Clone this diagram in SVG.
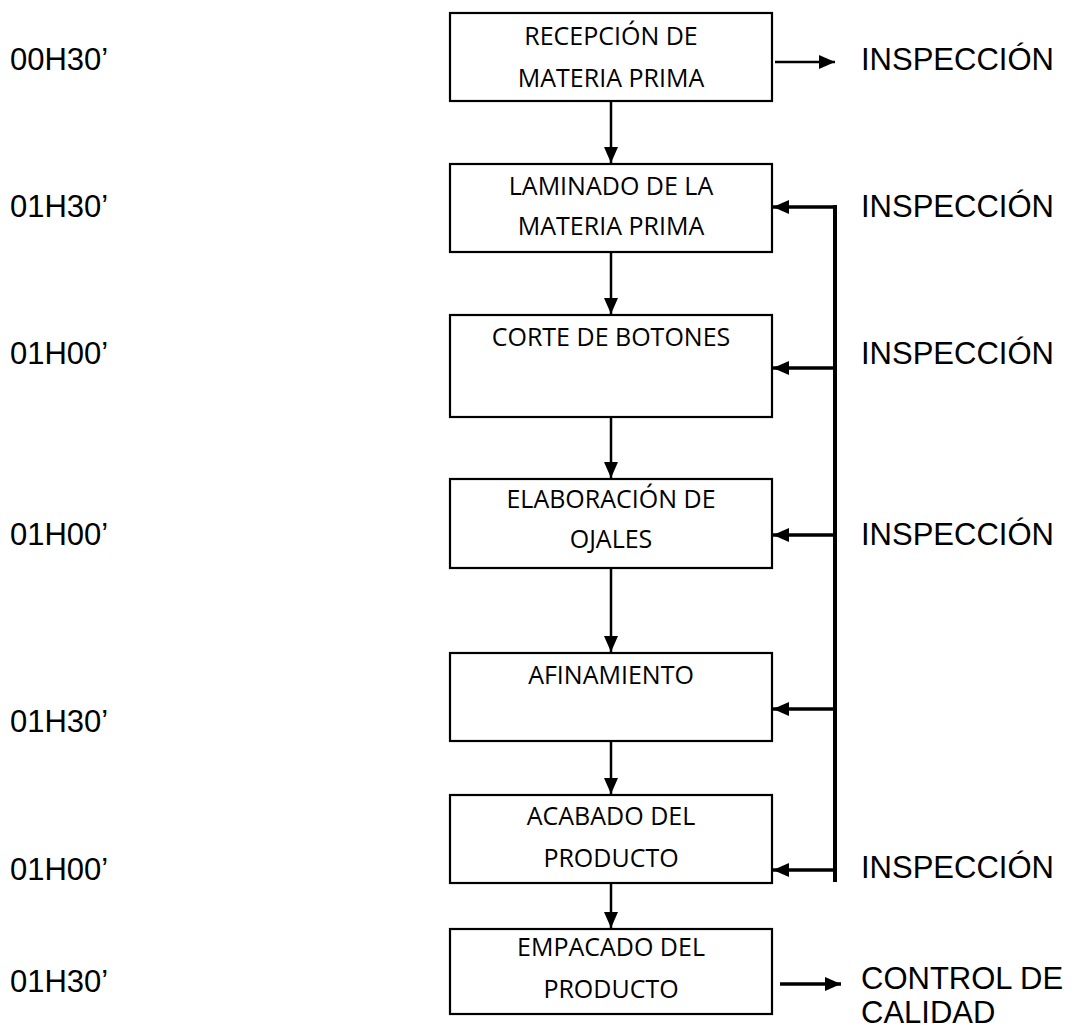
<svg xmlns="http://www.w3.org/2000/svg" width="1075" height="1029" viewBox="0 0 1075 1029">
<style>
.box{fill:#fff;stroke:#000;stroke-width:2.2}
.bt{font-family:"Open Sans","Noto Sans",sans-serif;font-size:25px;fill:#000;text-anchor:middle}
.lab{font-family:"Liberation Sans",Arial,sans-serif;font-size:31px;fill:#000}
.c{stroke:#000;fill:none}
.thin{stroke-width:2.5}
.thick{stroke-width:3.3}
</style>
<defs>
<marker id="ah" markerUnits="userSpaceOnUse" markerWidth="16" markerHeight="14" refX="16" refY="7" orient="auto">
<path d="M0,0 L16,7 L0,14 z" fill="#000"/>
</marker>
</defs>
<rect width="1075" height="1029" fill="#fff"/>
<g id="n1"><rect class="box" x="450" y="13" width="322" height="88"/><text class="bt" x="611" y="45">RECEPCIÓN DE</text><text class="bt" x="611" y="87">MATERIA PRIMA</text></g>
<g id="n2"><rect class="box" x="450" y="164" width="322" height="88"/><text class="bt" x="611" y="195">LAMINADO DE LA</text><text class="bt" x="611" y="235">MATERIA PRIMA</text></g>
<g id="n3"><rect class="box" x="450" y="315" width="322" height="102"/><text class="bt" x="611" y="346">CORTE DE BOTONES</text></g>
<g id="n4"><rect class="box" x="450" y="479" width="322" height="89"/><text class="bt" x="611" y="508">ELABORACIÓN DE</text><text class="bt" x="611" y="548">OJALES</text></g>
<g id="n5"><rect class="box" x="450" y="653" width="322" height="88"/><text class="bt" x="611" y="684">AFINAMIENTO</text></g>
<g id="n6"><rect class="box" x="450" y="795" width="322" height="88"/><text class="bt" x="611" y="825">ACABADO DEL</text><text class="bt" x="611" y="867">PRODUCTO</text></g>
<g id="n7"><rect class="box" x="450" y="929" width="322" height="85"/><text class="bt" x="611" y="956">EMPACADO DEL</text><text class="bt" x="611" y="998">PRODUCTO</text></g>
<g id="times">
<text class="lab" x="10" y="70">00H30’</text>
<text class="lab" x="10" y="217">01H30’</text>
<text class="lab" x="10" y="364">01H00’</text>
<text class="lab" x="10" y="545">01H00’</text>
<text class="lab" x="10" y="732">01H30’</text>
<text class="lab" x="10" y="880">01H00’</text>
<text class="lab" x="10" y="992">01H30’</text>
</g>
<g id="outputs">
<text class="lab" x="861" y="70">INSPECCIÓN</text>
<text class="lab" x="861" y="217">INSPECCIÓN</text>
<text class="lab" x="861" y="364">INSPECCIÓN</text>
<text class="lab" x="861" y="545">INSPECCIÓN</text>
<text class="lab" x="861" y="878">INSPECCIÓN</text>
<text class="lab" x="861" y="989">CONTROL DE</text>
<text class="lab" x="861" y="1023">CALIDAD</text>
</g>
<g id="connectors">
<line class="c thin" x1="611" y1="101" x2="611" y2="163" marker-end="url(#ah)"/>
<line class="c thin" x1="611" y1="252" x2="611" y2="314" marker-end="url(#ah)"/>
<line class="c thin" x1="611" y1="417" x2="611" y2="478" marker-end="url(#ah)"/>
<line class="c thin" x1="611" y1="568" x2="611" y2="652" marker-end="url(#ah)"/>
<line class="c thin" x1="611" y1="741" x2="611" y2="794" marker-end="url(#ah)"/>
<line class="c thin" x1="611" y1="883" x2="611" y2="928" marker-end="url(#ah)"/>
<line class="c thin" x1="775" y1="62" x2="835" y2="62" marker-end="url(#ah)"/>
<line class="c thick" x1="780" y1="984" x2="841" y2="984" marker-end="url(#ah)"/>
<line class="c" stroke-width="4" x1="835" y1="205" x2="835" y2="882"/>
<line class="c thick" x1="835" y1="207" x2="773" y2="207" marker-end="url(#ah)"/>
<line class="c thick" x1="835" y1="368" x2="773" y2="368" marker-end="url(#ah)"/>
<line class="c thick" x1="835" y1="535" x2="773" y2="535" marker-end="url(#ah)"/>
<line class="c thick" x1="835" y1="709" x2="773" y2="709" marker-end="url(#ah)"/>
<line class="c thick" x1="835" y1="870" x2="773" y2="870" marker-end="url(#ah)"/>
</g>
</svg>
